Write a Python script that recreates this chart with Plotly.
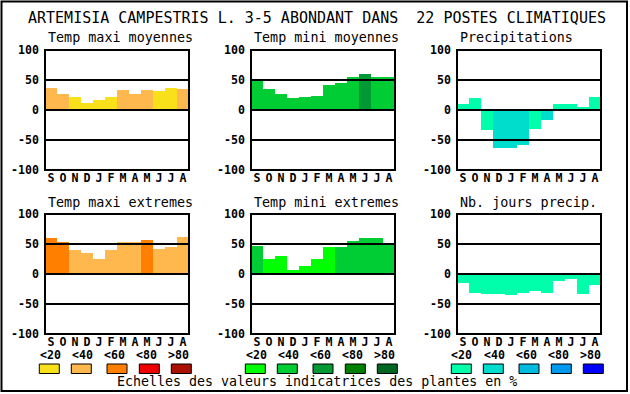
import plotly.graph_objects as go

W, H = 630, 394

# ---------------- data ----------------
months = ["S", "O", "N", "D", "J", "F", "M", "A", "M", "J", "J", "A"]
month_idx = [0, 1, 2, 3, 4, 5, 6, 7, 8, 9, 10, 11]
tick_vals = [-100, -50, 0, 50, 100]
tick_labels = ["-100", "-50", "0", "50", "100"]
legend_labels = ["<20", "<40", "<60", "<80", ">80"]

main_title = "ARTEMISIA CAMPESTRIS L. 3-5 ABONDANT DANS  22 POSTES CLIMATIQUES"
bottom_text = "Echelles des valeurs indicatrices des plantes en %"

titles = ["Temp maxi moyennes", "Temp mini moyennes", "Precipitations",
          "Temp maxi extremes", "Temp mini extremes", "Nb. jours precip."]

tmax_moy = [37, 27, 22, 12, 17, 22, 33, 27, 33, 32, 37, 35]
tmax_moy_cls = [1, 1, 0, 0, 0, 0, 1, 1, 1, 0, 0, 1]
tmin_moy = [52, 35, 27, 20, 22, 23, 42, 45, 55, 60, 55, 55]
tmin_moy_cls = [1, 1, 1, 1, 1, 1, 1, 1, 1, 2, 1, 1]
precip = [10, 20, -34, -64, -64, -58, -31, -16, 10, 10, 5, 22]
precip_cls = [0, 0, 0, 1, 1, 1, 0, 1, 0, 0, 0, 0]
tmax_ext = [60, 53, 40, 35, 25, 40, 53, 53, 57, 42, 45, 62]
tmax_ext_cls = [2, 2, 1, 1, 1, 1, 1, 1, 2, 1, 1, 1]
tmin_ext = [47, 25, 30, 7, 13, 25, 45, 45, 55, 60, 60, 52]
tmin_ext_cls = [1, 0, 0, 0, 0, 0, 0, 1, 1, 1, 1, 1]
njours = [-15, -32, -33, -33, -35, -32, -28, -32, -12, -8, -33, -18]
njours_cls = [0, 0, 0, 0, 0, 0, 0, 0, 0, 0, 0, 0]

red_pal = ["#F8E11A", "#FFB84D", "#FF8000", "#EE0000", "#AA1100"]
green_pal = ["#00FF00", "#00CC33", "#009933", "#008000", "#006622"]
blue_pal = ["#00FFAA", "#00DDCC", "#00BBDD", "#0099EE", "#0000FF"]

# ---------------- layout helpers ----------------
def fx(px):
    return px / W

def fy(py):
    return 1 - py / H

FONT = "DejaVu Sans Mono"
cols = [(45, 189), (251, 395), (457, 601)]
rows = [(50, 170), (214, 334)]

panels = [
    (tmax_moy, tmax_moy_cls, red_pal),
    (tmin_moy, tmin_moy_cls, green_pal),
    (precip, precip_cls, blue_pal),
    (tmax_ext, tmax_ext_cls, red_pal),
    (tmin_ext, tmin_ext_cls, green_pal),
    (njours, njours_cls, blue_pal),
]

fig = go.Figure()
shapes = []
annotations = []
layout_axes = {}

for i, (vals, cls, pal) in enumerate(panels):
    n = i + 1
    r, c = divmod(i, 3)
    x0, x1 = cols[c]
    y0, y1 = rows[r]
    xa = "x" if n == 1 else f"x{n}"
    ya = "y" if n == 1 else f"y{n}"
    fig.add_trace(go.Bar(
        x=month_idx, y=vals, xaxis=xa, yaxis=ya,
        marker=dict(color=[pal[k] for k in cls], line=dict(width=0)),
        width=1.0, showlegend=False, hoverinfo="skip"))
    xkey = "xaxis" if n == 1 else f"xaxis{n}"
    ykey = "yaxis" if n == 1 else f"yaxis{n}"
    layout_axes[xkey] = dict(
        domain=[fx(x0), fx(x1)], anchor=ya, range=[-0.5, 11.5],
        tickmode="array", tickvals=month_idx, ticktext=months,
        showgrid=False, zeroline=False, showline=False, ticks="",
        ticklabelstandoff=-1, automargin=False,
        tickfont=dict(family=FONT, size=11.6, color="black", weight="bold"),
        fixedrange=True)
    layout_axes[ykey] = dict(
        domain=[fy(y1), fy(y0)], anchor=xa, range=[-100, 100],
        tickmode="array", tickvals=tick_vals, ticktext=tick_labels,
        showgrid=False, zeroline=False, showline=False, ticks="",
        ticklabelstandoff=5, automargin=False,
        tickfont=dict(family=FONT, size=11.6, color="black", weight="bold"),
        fixedrange=True)
    # horizontal reference lines on top of bars
    for v in (50, 0, -50):
        shapes.append(dict(type="line", xref=f"{xa} domain", yref=ya,
                           x0=0, x1=1, y0=v, y1=v, layer="above",
                           line=dict(color="black", width=2)))
    shapes.append(dict(type="rect", xref=f"{xa} domain", yref=f"{ya} domain",
                       x0=0, x1=1, y0=0, y1=1, layer="above",
                       line=dict(color="black", width=2)))
    annotations.append(dict(text=titles[i], xref="paper", yref="paper",
                            x=fx(x0 + 1), y=fy(y0 - 12), xanchor="left",
                            yanchor="middle", showarrow=False,
                            font=dict(family=FONT, size=13.4, color="black")))

# colour scale legends
box_off = [4.3, 36.3, 72, 104.3, 136.3]
lab_off = [5, 37, 69, 101, 133]
for c, pal in enumerate([red_pal, green_pal, blue_pal]):
    left = cols[c][0]
    for k in range(5):
        cx = left + box_off[k]
        shapes.append(dict(type="rect", xref="paper", yref="paper",
                           x0=fx(cx - 10), x1=fx(cx + 10),
                           y0=fy(373.5), y1=fy(364),
                           fillcolor=pal[k], line=dict(color="black", width=1)))
        annotations.append(dict(text=legend_labels[k], xref="paper", yref="paper",
                                x=fx(left + lab_off[k]), y=fy(354.5),
                                xanchor="center", yanchor="middle", showarrow=False,
                                font=dict(family=FONT, size=11.6, color="black",
                                          weight="bold")))

# outer frame
shapes.append(dict(type="rect", xref="paper", yref="paper",
                   x0=fx(1.5), x1=fx(627), y0=fy(391), y1=fy(1.5),
                   line=dict(color="black", width=2)))

annotations.append(dict(text=main_title, xref="paper", yref="paper",
                        x=fx(316.5), y=fy(18), xanchor="center", yanchor="middle",
                        showarrow=False,
                        font=dict(family=FONT, size=15, color="black")))
annotations.append(dict(text=bottom_text, xref="paper", yref="paper",
                        x=fx(317), y=fy(381), xanchor="center", yanchor="middle",
                        showarrow=False,
                        font=dict(family=FONT, size=13.3, color="black")))

fig.update_layout(
    width=W, height=H, margin=dict(l=0, r=0, t=0, b=0, autoexpand=False),
    paper_bgcolor="white", plot_bgcolor="white",
    bargap=0, shapes=shapes, annotations=annotations, **layout_axes)

fig.write_html("out.html", config={"displayModeBar": False},
               post_script="document.body.style.margin='0';"
                           "document.body.style.overflow='hidden';")
